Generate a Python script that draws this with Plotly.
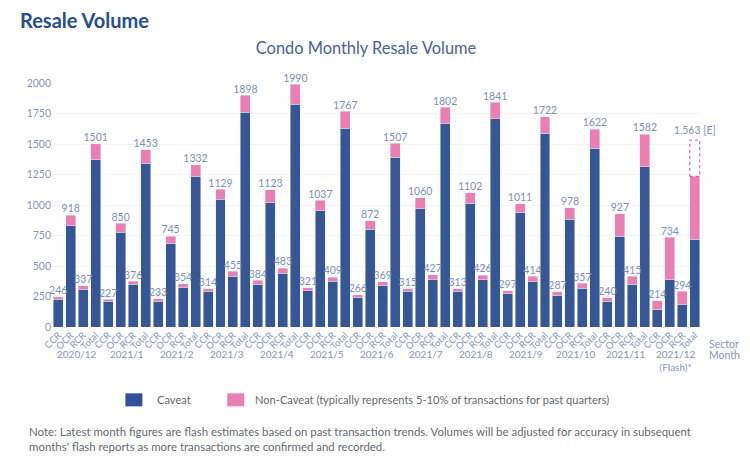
import plotly.graph_objects as go

months = ['2020/12', '2021/1', '2021/2', '2021/3', '2021/4', '2021/5', '2021/6',
          '2021/7', '2021/8', '2021/9', '2021/10', '2021/11', '2021/12<br>(Flash)*']
sectors = ['CCR', 'OCR', 'RCR', 'Total']

# one row per month: CCR, OCR, RCR, Total
caveat_rows = [
    [228, 830, 307, 1369],
    [213, 777, 349, 1341],
    [213, 682, 327, 1232],
    [292, 1047, 414, 1761],
    [352, 1019, 442, 1827],
    [297, 951, 374, 1628],
    [243, 802, 338, 1391],
    [295, 971, 393, 1669],
    [295, 1014, 387, 1706],
    [273, 938, 371, 1587],
    [259, 883, 319, 1467],
    [210, 742, 352, 1314],
    [142, 387, 183, 720],
]
total_rows = [
    [246, 918, 337, 1501],
    [227, 850, 376, 1453],
    [233, 745, 354, 1332],
    [314, 1129, 455, 1898],
    [384, 1123, 483, 1990],
    [321, 1037, 409, 1767],
    [266, 872, 369, 1507],
    [315, 1060, 427, 1802],
    [313, 1102, 426, 1841],
    [297, 1011, 414, 1722],
    [287, 978, 357, 1622],
    [240, 927, 415, 1582],
    [214, 734, 294, 1235],
]
estimate_top = 1532
estimate_value = 1563
estimate_label = '1,563 [E]'

NAVY = '#375694'
PINK = '#ea7fb4'
AXIS_TEXT = '#8796bb'
NOTE_TEXT = '#666a72'
FONT = 'Lato'
BAR_WIDTH = 0.8

# plot area in pixels, used for the text and swatches outside of it
PLOT_W = 650
PLOT_H = 244.5
PLOT_L = 51.5
PLOT_B = 327.5


def px(x):
    return (x - PLOT_L) / PLOT_W


def py(y):
    return (PLOT_B - y) / PLOT_H


caveat = [v for row in caveat_rows for v in row]
total = [v for row in total_rows for v in row]
non_caveat = [t - c for t, c in zip(total, caveat)]
idx = list(range(len(caveat)))
tick_text = sectors * len(months)
labels = [str(v) for v in total]
labels[-1] = estimate_label
label_y = total[:-1] + [estimate_value]

fig = go.Figure()
fig.add_trace(go.Bar(x=idx, y=caveat, name='Caveat', marker_color=NAVY, width=BAR_WIDTH))
fig.add_trace(go.Bar(x=idx, y=non_caveat, name='Non-Caveat', marker_color=PINK, width=BAR_WIDTH))
fig.add_trace(go.Scatter(x=idx, y=label_y, mode='text', text=labels, textposition='top center',
                         textfont=dict(family=FONT, size=10.5, color='#7f90b6'),
                         cliponaxis=False, showlegend=False))

# dotted outline for the flash estimate on top of the last Total bar
fig.add_shape(type='rect', xref='x', yref='y', x0=idx[-1] - BAR_WIDTH / 2, x1=idx[-1] + BAR_WIDTH / 2,
              y0=total[-1], y1=estimate_top, line=dict(color='#c0559a', width=1, dash='dot'))

# month labels under each group of four bars
for i, m in enumerate(months):
    fig.add_annotation(x=i * 4 + 1.5, xref='x', y=py(347), yref='paper', text=m, showarrow=False,
                       yanchor='top', font=dict(family=FONT, size=10, color=AXIS_TEXT))

for name, y in [('Sector', 345), ('Month', 356)]:
    fig.add_annotation(x=px(708), xref='paper', y=py(y), yref='paper', text=name, showarrow=False,
                       yanchor='middle', xanchor='left', font=dict(family=FONT, size=10.5, color=AXIS_TEXT))

# page heading and footnote
fig.add_annotation(xref='paper', yref='paper', x=px(17), y=py(20), text='<b>Resale Volume</b>', xanchor='left',
                   yanchor='middle', showarrow=False, font=dict(family=FONT, size=20, color='#2a4d8f'))
fig.add_annotation(xref='paper', yref='paper', x=px(26), y=py(440), xanchor='left', yanchor='middle',
                   align='left', showarrow=False, font=dict(family=FONT, size=11.45, color=NOTE_TEXT),
                   text="Note: Latest month figures are flash estimates based on past transaction trends. "
                        "Volumes will be adjusted for accuracy in subsequent<br>"
                        "months' flash reports as more transactions are confirmed and recorded.")

# legend swatches
legend_items = [(125, 155, '#2f509d', 'Caveat'),
                (227, 253, PINK, 'Non-Caveat (typically represents 5-10% of transactions for past quarters)')]
for x0, text_x, color, name in legend_items:
    fig.add_shape(type='rect', xref='paper', yref='paper', x0=px(x0), x1=px(x0 + 17),
                  y0=py(407), y1=py(394), line=dict(width=0), fillcolor=color)
    fig.add_annotation(xref='paper', yref='paper', x=px(text_x), y=py(400), text=name,
                       xanchor='left', yanchor='middle', showarrow=False,
                       font=dict(family=FONT, size=11.1, color=NOTE_TEXT))

fig.update_layout(
    width=750, height=461, barmode='stack', showlegend=False,
    paper_bgcolor='white', plot_bgcolor='white',
    margin=dict(l=PLOT_L, r=750 - PLOT_L - PLOT_W, t=83, b=461 - PLOT_B),
    title=dict(text='Condo Monthly Resale Volume', x=366 / 750, xanchor='center', y=1 - 48 / 461, yanchor='middle',
               font=dict(family=FONT, size=16.4, color='#4a6194')),
    xaxis=dict(range=[-0.5, 51.5], tickvals=idx, ticktext=tick_text, tickangle=-45, showgrid=False,
               zeroline=False, showline=False, ticks='', tickfont=dict(family=FONT, size=9.5, color=AXIS_TEXT)),
    yaxis=dict(range=[0, 2000], tickvals=[0, 250, 500, 750, 1000, 1250, 1500, 1750, 2000],
               gridcolor='#f3f4f8', zeroline=False, showline=False, ticks='',
               tickfont=dict(family=FONT, size=10.5, color=AXIS_TEXT)),
)

# the page's default body margin would shift the whole chart
fig.write_html('out.html', config={'displayModeBar': False}, post_script="document.body.style.margin = '0';")
